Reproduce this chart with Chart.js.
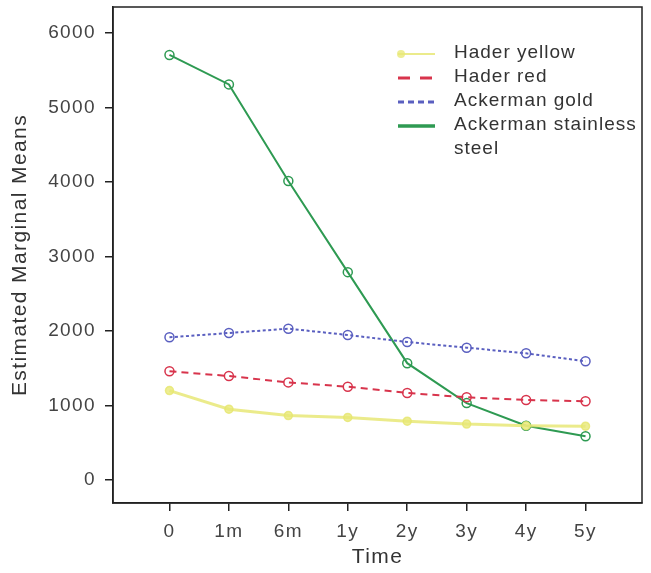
<!DOCTYPE html>
<html>
<head>
<meta charset="utf-8">
<script src="https://cdn.jsdelivr.net/npm/chart.js@4.4.0/dist/chart.umd.min.js"></script>
<style>
html,body{margin:0;padding:0;background:#fff;}
#wrap{width:651px;height:573px;}
</style>
</head>
<body>
<div id="wrap"><canvas id="c" width="651" height="573"></canvas></div>
<script>
const timeLabels = ['0', '1m', '6m', '1y', '2y', '3y', '4y', '5y'];
const seriesNames = ['Hader yellow', 'Hader red', 'Ackerman gold', 'Ackerman stainless steel'];
const haderYellow = [1200, 950, 865, 840, 790, 750, 728, 722];
const haderRed = [1460, 1395, 1310, 1252, 1168, 1110, 1074, 1056];
const ackermanGold = [1915, 1973, 2031, 1946, 1852, 1776, 1700, 1593];
const ackermanSteel = [5705, 5310, 4013, 2790, 1568, 1032, 728, 588];
const yTicks = [0, 1000, 2000, 3000, 4000, 5000, 6000];

const FONT = '"Liberation Sans", Arial, Helvetica, sans-serif';
const toPts = arr => arr.map((v, i) => ({x: i, y: v}));

const styles = [
  {color: 'rgba(230,230,110,0.8)', dash: [], width: 3, bg: 'rgba(232,232,120,0.8)', legendDash: [], legendWidth: 2, dot: true},
  {color: '#d8344c', dash: [7, 5], width: 2, bg: 'rgba(255,255,255,0)', legendDash: [12, 10], legendWidth: 3},
  {color: '#5a5fc0', dash: [3, 2.5], width: 2, bg: 'rgba(255,255,255,0)', legendDash: [6, 4], legendWidth: 3},
  {color: '#2e9a52', dash: [], width: 2, bg: 'rgba(255,255,255,0)', legendDash: [], legendWidth: 3.5}
];
const seriesData = [haderYellow, haderRed, ackermanGold, ackermanSteel];

const datasets = seriesData.map((d, i) => ({
  label: seriesNames[i],
  data: toPts(d),
  borderColor: styles[i].color,
  borderDash: styles[i].dash,
  borderWidth: styles[i].width,
  pointRadius: i === 0 ? 4 : 4.5,
  pointBorderWidth: 1.5,
  pointBorderColor: styles[i].color,
  pointBackgroundColor: styles[i].bg,
  tension: 0,
  fill: false
}));

const spacingPlugin = {
  id: 'spacing',
  beforeDraw(chart) { chart.ctx.letterSpacing = '1.4px'; }
};

const frame = {
  id: 'frame',
  afterDatasetsDraw(chart) {
    const {ctx, chartArea: a} = chart;
    ctx.save();
    ctx.strokeStyle = '#222';
    ctx.lineWidth = 1.5;
    ctx.strokeRect(a.left, a.top, a.right - a.left, a.bottom - a.top);
    ctx.restore();
  }
};

const legendPlugin = {
  id: 'customLegend',
  afterDraw(chart) {
    const ctx = chart.ctx;
    ctx.save();
    ctx.letterSpacing = '1px';
    ctx.font = '19px ' + FONT;
    ctx.textBaseline = 'middle';
    let y = 54;
    const x0 = 398, x1 = 435, tx = 454, rowH = 24, maxW = 185;
    chart.data.datasets.forEach((ds, i) => {
      const st = styles[i];
      ctx.strokeStyle = st.color;
      ctx.lineWidth = st.legendWidth;
      ctx.setLineDash(st.legendDash);
      ctx.beginPath();
      ctx.moveTo(x0, y);
      ctx.lineTo(x1, y);
      ctx.stroke();
      ctx.setLineDash([]);
      if (st.dot) {
        ctx.fillStyle = st.bg;
        ctx.beginPath();
        ctx.arc(x0 + 3, y, 4, 0, Math.PI * 2);
        ctx.fill();
      }
      ctx.fillStyle = '#333';
      const words = ds.label.split(' ');
      let line = '';
      const lines = [];
      words.forEach(w => {
        const test = line ? line + ' ' + w : w;
        if (ctx.measureText(test).width > maxW && line) { lines.push(line); line = w; }
        else line = test;
      });
      lines.push(line);
      lines.forEach((l, k) => {
        ctx.fillText(l, tx, y + k * rowH - 1);
      });
      y += rowH * lines.length;
    });
    ctx.restore();
  }
};

new Chart(document.getElementById('c'), {
  type: 'line',
  data: {datasets},
  plugins: [spacingPlugin, frame, legendPlugin],
  options: {
    responsive: false,
    animation: false,
    devicePixelRatio: 1,
    layout: {padding: {top: 7, right: 9, left: 0, bottom: 0}},
    plugins: {legend: {display: false}, tooltip: {enabled: false}},
    scales: {
      x: {
        type: 'linear',
        min: -0.95,
        max: 7.95,
        afterBuildTicks: s => { s.ticks = timeLabels.map((_, i) => ({value: i})); },
        afterFit: s => { s.height = 70; s.paddingLeft = 0; s.paddingRight = 0; },
        ticks: {
          callback: v => timeLabels[v],
          font: {family: FONT, size: 19},
          color: '#444',
          padding: 9,
          autoSkip: false,
          maxRotation: 0
        },
        grid: {drawOnChartArea: false, drawTicks: true, tickLength: 8, color: '#222', lineWidth: 1.5},
        border: {display: true, color: '#222', width: 1.5},
        title: {display: true, text: 'Time', font: {family: FONT, size: 21}, color: '#333', padding: {top: 0, bottom: 3}}
      },
      y: {
        type: 'linear',
        min: -309,
        max: 6349,
        afterBuildTicks: s => { s.ticks = yTicks.map(v => ({value: v})); },
        afterFit: s => { s.width = 113; s.paddingTop = 0; s.paddingBottom = 0; },
        ticks: {
          callback: v => String(v),
          font: {family: FONT, size: 19},
          color: '#444',
          padding: 9,
          autoSkip: false
        },
        grid: {drawOnChartArea: false, drawTicks: true, tickLength: 8, color: '#222', lineWidth: 1.5},
        border: {display: true, color: '#222', width: 1.5},
        title: {display: true, text: 'Estimated Marginal Means', font: {family: FONT, size: 21}, color: '#333', padding: {top: 8, bottom: 0}}
      }
    }
  }
});
</script>
</body>
</html>
